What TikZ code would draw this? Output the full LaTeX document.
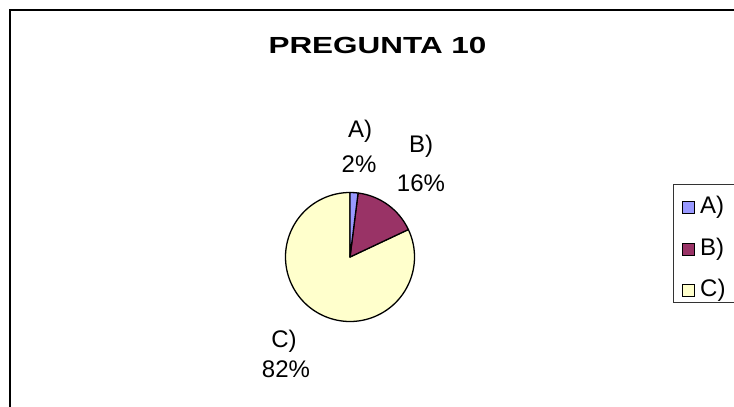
\documentclass[tikz,border=0pt]{standalone}
\usepackage{fontspec}
\setmainfont{Liberation Sans}
\definecolor{sliceA}{HTML}{9999FF}
\definecolor{sliceB}{HTML}{993366}
\definecolor{sliceC}{HTML}{FFFFCC}
\tikzset{
  lbl/.style={font=\fontsize{24}{28}\selectfont, anchor=base, inner sep=0pt},
  legtxt/.style={font=\fontsize{24}{28}\selectfont, anchor=base west, inner sep=0pt},
  legsq/.style={draw=black, line width=1pt, minimum width=12pt, minimum height=12pt, inner sep=0pt},
  slice/.style={draw=black, line width=1.3pt, line join=round},
}
\begin{document}
\begin{tikzpicture}[x=1pt,y=1pt]
\useasboundingbox (0,0) rectangle (734,407);
\clip (0,0) rectangle (734,407);
\fill[white] (0,0) rectangle (734,407);
% outer frame
\draw[line width=2pt] (9.5,-10) -- (9.5,396.5) -- (760,396.5);
% title
\node[anchor=base, inner sep=0pt, font=\fontsize{23.3}{28}\selectfont\bfseries] (title) at (377.5,353) {\scalebox{1.35}[1]{PREGUNTA 10}};
% pie
\coordinate (pc) at (350,150);
\filldraw[slice, fill=sliceC] (pc) -- ++(25.2:64.5) arc[start angle=25.2, end angle=-270, radius=64.5] -- cycle;
\filldraw[slice, fill=sliceB] (pc) -- ++(82.8:64.5) arc[start angle=82.8, end angle=25.2, radius=64.5] -- cycle;
\filldraw[slice, fill=sliceA] (pc) -- ++(90:64.5) arc[start angle=90, end angle=82.8, radius=64.5] -- cycle;
% labels
\node[lbl] (la1) at (360,269) {A)};
\node[lbl] (la2) at (359,234) {2\%};
\node[lbl] (lb1) at (421,254) {B)};
\node[lbl] (lb2) at (421,215.3) {16\%};
\node[lbl] (lc1) at (284,59) {C)};
\node[lbl] (lc2) at (286,29) {82\%};
% legend
\draw[line width=0.8pt, draw=black!80] (760,222.5) -- (673,222.5) -- (673,105) -- (760,105);
\node[legsq, fill=sliceA] (sqa) at (688.3,199) {};
\node[legsq, fill=sliceB] (sqb) at (688.3,157.5) {};
\node[legsq, fill=sliceC] (sqc) at (688.3,116.7) {};
\node[legtxt] (ta) at (700,193) {A)};
\node[legtxt] (tb) at (700,151.5) {B)};
\node[legtxt] (tc) at (700,110.5) {C)};
\end{tikzpicture}
\end{document}
